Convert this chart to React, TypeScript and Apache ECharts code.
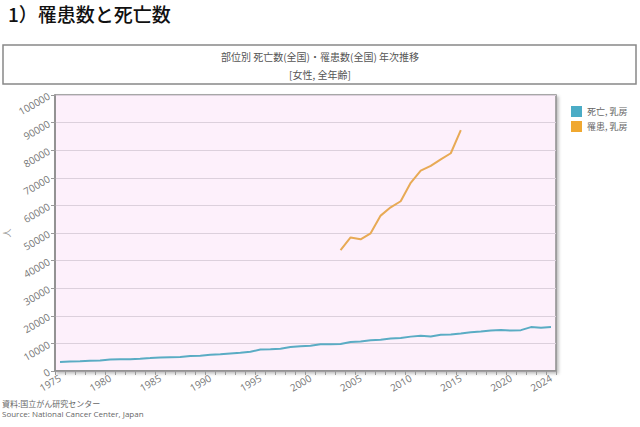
import React, { useEffect, useRef } from "react";
import * as echarts from "echarts";

const years: string[] = [];
for (let y = 1975; y <= 2024; y++) years.push(String(y));

const deaths = [
  3262, 3429, 3556, 3744, 3829, 4141, 4249, 4243, 4422, 4669,
  4922, 5025, 5062, 5441, 5552, 5848, 6041, 6366, 6616, 6999,
  7763, 7846, 8098, 8689, 8948, 9171, 9654, 9650, 9805, 10524,
  10721, 11177, 11323, 11797, 11918, 12455, 12731, 12529, 13148, 13240,
  13584, 14015, 14285, 14653, 14839, 14650, 14803, 15912, 15629, 15900,
];

const incidence: (number | null)[] = [
  null, null, null, null, null, null, null, null, null, null,
  null, null, null, null, null, null, null, null, null, null,
  null, null, null, null, null, null, null, null, 43800, 48400,
  47700, 49900, 56300, 59300, 61500, 68200, 72600, 74300, 76700, 78900,
  87300, null, null, null, null, null, null, null, null, null,
];

const seriesNames = ["死亡, 乳房", "罹患, 乳房"];
const yTicks = { min: 0, max: 100000, interval: 10000 };
const FONT = "'Noto Sans CJK JP', 'Noto Sans', sans-serif";
const LABEL_FONT = "'Open Sans', 'Noto Sans', sans-serif";

export default function App() {
  const ref = useRef<HTMLDivElement>(null);
  useEffect(() => {
    if (!ref.current) return;
    const chart = echarts.init(ref.current, null, { renderer: "svg" });
    chart.setOption({
      animation: false,
      textStyle: { fontFamily: FONT },
      grid: { left: 55, right: 84, top: 95, bottom: 56, containLabel: false, show: true, backgroundColor: "#fdf0fb", borderColor: "#8c8c8c", borderWidth: 1.5, shadowColor: "rgba(0,0,0,0.25)", shadowBlur: 3, shadowOffsetX: 2, shadowOffsetY: 2 },
      legend: {
        orient: "vertical",
        left: 566,
        top: 101,
        itemWidth: 11,
        itemHeight: 11,
        itemGap: 4,
        icon: "rect",
        textStyle: { fontSize: 9, color: "#666", fontFamily: FONT },
        data: seriesNames,
      },
      xAxis: {
        type: "category",
        data: years,
        boundaryGap: true,
        axisLine: { lineStyle: { color: "#8c8c8c", width: 1.5 } },
        axisTick: { show: true, interval: 0, length: 4, lineStyle: { color: "#999" } },
        axisLabel: {
          color: "#777",
          fontSize: 10,
          fontFamily: LABEL_FONT,
          rotate: 30,
          margin: 6,
          interval: (i: number, v: string) => {
            const y = Number(v);
            return (y - 1975) % 5 === 0 || y === 2024;
          },
        },
      },
      yAxis: {
        type: "value",
        min: yTicks.min,
        max: yTicks.max,
        interval: yTicks.interval,
        axisLine: { show: true, lineStyle: { color: "#8c8c8c", width: 1.5 } },
        axisTick: { show: true, length: 4, lineStyle: { color: "#999" } },
        splitLine: { lineStyle: { color: "#dcd0dc", width: 1 } },
        axisLabel: { color: "#777", fontSize: 10, fontFamily: LABEL_FONT, rotate: 30, margin: 6, formatter: (v: number) => String(v) },
      },
      series: [
        {
          name: seriesNames[0],
          type: "line",
          data: deaths,
          symbol: "none",
          itemStyle: { color: "#4bacc6" },
          lineStyle: { color: "#5aacc4", width: 2 },
        },
        {
          name: seriesNames[1],
          type: "line",
          data: incidence,
          symbol: "none",
          connectNulls: false,
          itemStyle: { color: "#f0a830" },
          lineStyle: { color: "#e8aa55", width: 2 },
        },
      ],
      graphic: [
        { type: "text", left: 8, top: 4, style: { text: "1）罹患数と死亡数", fontSize: 19, fontWeight: 500, fill: "#111", fontFamily: FONT } },
        { type: "rect", shape: { x: 3, y: 45, width: 633, height: 39 }, style: { fill: "#fff", stroke: "#888", lineWidth: 1.5 } },
        { type: "text", x: 320, y: 56, style: { text: "部位別 死亡数(全国)・罹患数(全国) 年次推移", fontSize: 10, fill: "#555", align: "center", verticalAlign: "middle", fontFamily: FONT } },
        { type: "text", x: 320, y: 74, style: { text: "[女性, 全年齢]", fontSize: 10, fill: "#555", align: "center", verticalAlign: "middle", fontFamily: FONT } },
        { type: "text", x: 6, y: 233, rotation: Math.PI / 2, style: { text: "人", fontSize: 9, fill: "#999", align: "center", verticalAlign: "middle", fontFamily: FONT } },
        { type: "text", x: 2, y: 403, style: { text: "資料:国立がん研究センター", fontSize: 8, fill: "#666", verticalAlign: "middle", fontFamily: FONT } },
        { type: "text", x: 2, y: 413, style: { text: "Source: National Cancer Center, Japan", fontSize: 8, fill: "#666", verticalAlign: "middle", fontFamily: LABEL_FONT } },
      ],
    });
    return () => chart.dispose();
  }, []);
  return <div ref={ref} style={{ width: 640, height: 427, position: "absolute", left: 0, top: 0 }} />;
}
